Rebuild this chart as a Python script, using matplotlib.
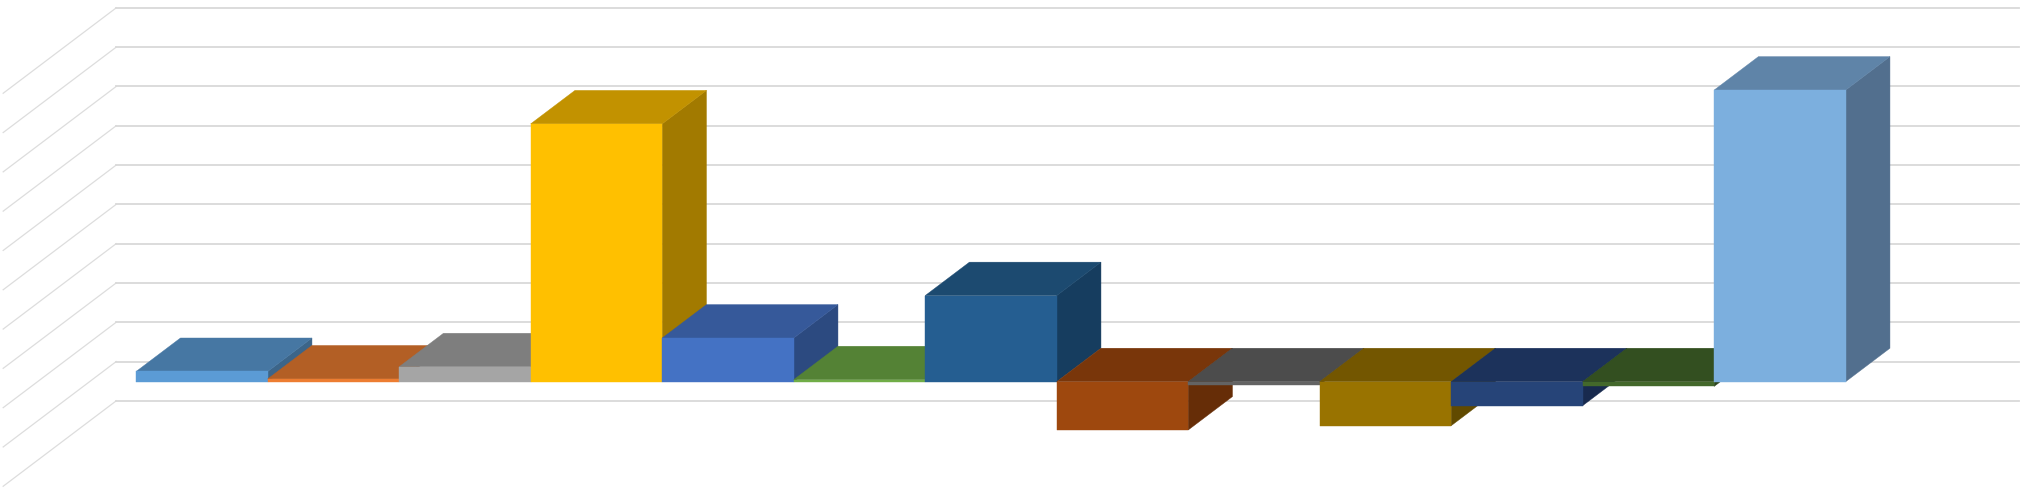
import numpy as np
import matplotlib
matplotlib.use("Agg")
import matplotlib.pyplot as plt

# bar values, one bar per category (gridlines every 100)
values = [26, 7, 38, 656, 111, 5, 219, -123, -8, -112, -61, -12, 742]
front_colors = ['#5B9BD5', '#ED7D31', '#A5A5A5', '#FFC000', '#4472C4', '#70AD47', '#255E91',
                '#9E480E', '#636363', '#997300', '#264478', '#43682B', '#7CAFDE']
top_colors = ['#4677A3', '#B35F25', '#7E7E7E', '#C29200', '#36599A', '#548235', '#1C4A70',
              '#79360A', '#4C4C4C', '#735600', '#1C325B', '#334F20', '#5F84A8']
side_colors = ['#3C6589', '#9E5220', '#6C6C6C', '#A27A00', '#2C4A80', '#466E2C', '#163D5F',
               '#662D07', '#404040', '#614A00', '#182A4E', '#2B431B', '#526F8E']
grid_levels = [-200, -100, 0, 100, 200, 300, 400, 500, 600, 700, 800]

# how far one bar depth shifts things on screen, in data units
depth_x = 0.337
depth_y = 85.2
floor_front = -0.775
floor_back = 1.775

fig = plt.figure(figsize=(20.29, 4.9), dpi=100)
ax = fig.add_axes([0, 0, 1, 1])
ax.set_xlim((0 - 201.9) / 131.5, (2029 - 201.9) / 131.5)
ax.set_ylim((381.7 - 490) / 0.393, 381.7 / 0.393)
ax.axis('off')

# walls: each gridline runs along the floor side then across the back
for g in grid_levels:
    x0 = -1.25
    ax.plot([x0 + floor_front * depth_x, x0 + floor_back * depth_x],
            [g + floor_front * depth_y, g + floor_back * depth_y],
            color='#DDDDDD', lw=0.9, zorder=1)
    ax.plot([x0 + floor_back * depth_x, 13.25 + floor_back * depth_x - 0.03],
            [g + floor_back * depth_y, g + floor_back * depth_y],
            color='#D9D9D9', lw=1.3, zorder=1)


def draw_bar(i, v, front, top, side, z):
    left = i - 0.5
    right = i + 0.5
    high = max(v, 0)
    low = min(v, 0)
    # right side, top, front in that order
    ax.fill([right, right + depth_x, right + depth_x, right],
            [low, low + depth_y, high + depth_y, high],
            facecolor=side, edgecolor=side, lw=0.3, zorder=z)
    ax.fill([left, left + depth_x, right + depth_x, right],
            [high, high + depth_y, high + depth_y, high],
            facecolor=top, edgecolor=top, lw=0.3, zorder=z)
    ax.fill([left, right, right, left],
            [low, low, high, high],
            facecolor=front, edgecolor=front, lw=0.3, zorder=z)


# painted left to right so later bars cover earlier ones
for i in range(len(values)):
    draw_bar(i, values[i], front_colors[i], top_colors[i], side_colors[i], 2 + i)

fig.savefig("out.png", dpi=100, facecolor='white')
